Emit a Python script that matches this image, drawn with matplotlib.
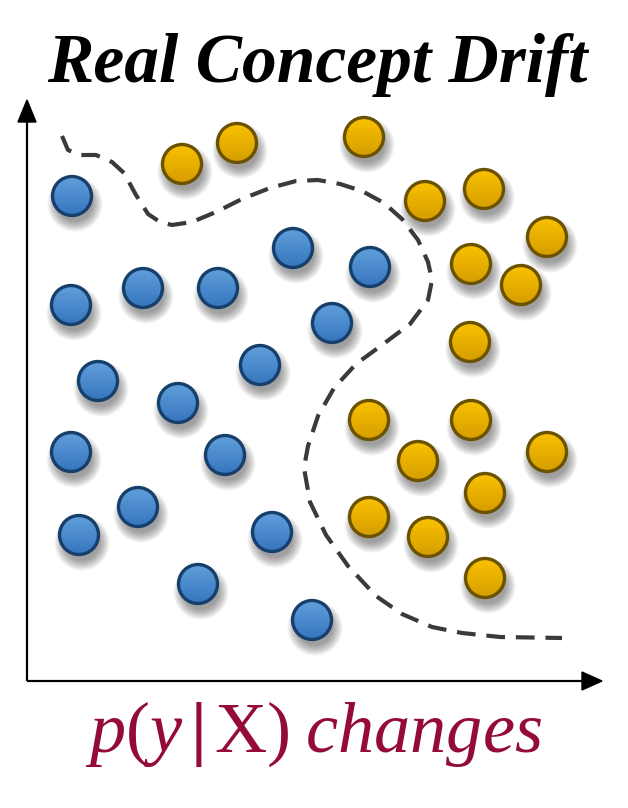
import numpy as np
import matplotlib.pyplot as plt
from matplotlib.patches import Circle

plt.rcParams['mathtext.fontset'] = 'custom'
plt.rcParams['mathtext.rm'] = 'Liberation Serif'
plt.rcParams['mathtext.it'] = 'Liberation Serif:italic'
plt.rcParams['mathtext.bf'] = 'Liberation Serif:bold'

W, H = 628, 808

# point centres (pixel space of the sketch)
blue_x = [72, 71, 143, 218, 293, 370, 332, 98, 178, 260, 71, 225, 138, 79, 272, 198, 312]
blue_y = [196, 305, 288, 288, 248, 267, 323, 381, 403, 365, 452, 455, 507, 535, 532, 584, 620]
gold_x = [182, 237, 364, 425, 484, 547, 471, 521, 470, 369, 471, 418, 547, 485, 369, 428, 485]
gold_y = [164, 143, 137, 201, 189, 237, 264, 285, 342, 420, 420, 461, 452, 493, 517, 537, 578]

# decision boundary (hand-traced)
bound_x = [62, 68, 80, 96, 112, 124, 136, 148, 160, 172, 192, 216, 242, 270, 296, 318, 340, 362,
           384, 402, 418, 428, 432, 428, 410, 382, 356, 334, 318, 308, 304, 310, 326, 348,
           376, 402, 432, 462, 500, 562]
bound_y = [136, 150, 155, 155, 162, 173, 195, 214, 222, 225, 222, 212, 199, 188, 181, 180, 184, 191,
           203, 219, 240, 262, 280, 300, 324, 345, 364, 388, 416, 446, 468, 502, 535, 566,
           596, 614, 627, 633, 637, 638]

title = 'Real Concept Drift'
caption = r'$p(y\,\mathbf{|}\,\mathrm{X})\;\mathit{changes}$'

R = 20.5

fig = plt.figure(figsize=(W / 100, H / 100), dpi=100)
ax = fig.add_axes([0, 0, 1, 1])
ax.set_xlim(0, W)
ax.set_ylim(H, 0)
ax.axis('off')

# axes arrows
ax.plot([27, 27], [681, 118], color='black', lw=1.6, solid_capstyle='butt', zorder=1)
ax.plot([27, 27 + 555], [681, 681], color='black', lw=1.6, solid_capstyle='butt', zorder=1)
ax.add_patch(plt.Polygon([[18, 122], [36, 122], [27, 100]], closed=True, color='black', zorder=1))
ax.add_patch(plt.Polygon([[582, 672], [582, 690], [602, 681]], closed=True, color='black', zorder=1))

# boundary
ax.plot(bound_x, bound_y, color='#3a3a3a', lw=3.0, dashes=(4.5, 2.6), zorder=2,
        solid_capstyle='butt', dash_capstyle='butt')


def draw_points(xs, ys, top, bottom, edge):
    grad = np.linspace(0, 1, 64)[:, None]
    c1 = np.array(plt.matplotlib.colors.to_rgb(top))
    c2 = np.array(plt.matplotlib.colors.to_rgb(bottom))
    img = c1[None, None, :] * (1 - grad[..., None]) + c2[None, None, :] * grad[..., None]
    img = np.repeat(img, 4, axis=1)
    for x, y in zip(xs, ys):
        # soft shadow
        for k in range(10):
            ax.add_patch(Circle((x + 3, y + 8), R + 7 - k * 1.1, color='black',
                                alpha=0.045, lw=0, zorder=3))
        c = Circle((x, y), R, facecolor='none', edgecolor='none', zorder=4)
        ax.add_patch(c)
        im = ax.imshow(img, extent=(x - R, x + R, y + R, y - R), origin='upper',
                       zorder=4, interpolation='bilinear', aspect='auto')
        im.set_clip_path(c)
        ax.add_patch(Circle((x, y), R - 1, facecolor='none', edgecolor=edge, lw=2.4, zorder=5))


draw_points(blue_x, blue_y, '#62a0dc', '#3575bd', '#173f6b')
draw_points(gold_x, gold_y, '#fcc400', '#d49c00', '#6b5200')
ax.set_xlim(0, W)
ax.set_ylim(H, 0)

ax.text(W / 2 + 3, 82, title, ha='center', va='baseline', fontsize=50,
        family='Liberation Serif', style='italic', weight='bold', color='black')
ax.text(W / 2, 752, caption, ha='center', va='baseline', fontsize=52, color='#930b36')

fig.savefig('out.png', dpi=100)
